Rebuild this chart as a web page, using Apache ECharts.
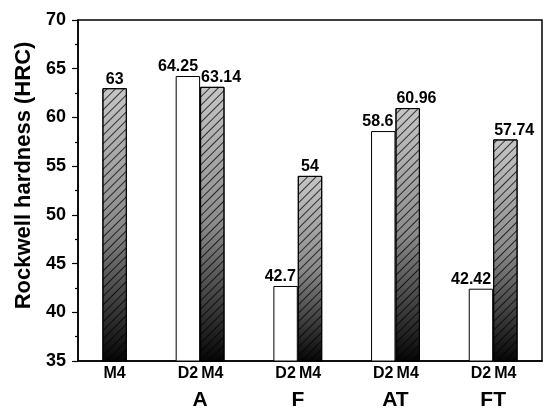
<!DOCTYPE html>
<html>
<head>
<meta charset="utf-8">
<script src="https://cdn.jsdelivr.net/npm/echarts@6/dist/echarts.min.js"></script>
<style>
  html, body { margin: 0; padding: 0; background: #fff; }
  #main { width: 550px; height: 418px; }
</style>
</head>
<body>
<div id="main"></div>
<script>
// treatment groups (first group has only M4)
const groups = ['', 'A', 'F', 'AT', 'FT'];
const d2Values = [null, 64.25, 42.7, 58.6, 42.42];
const m4Values = [63, 63.14, 54, 60.96, 57.74];

// how each value label sits above its bar
const d2LabelSide = ['right', 'right', 'right', 'right', 'right'];
const m4LabelSide = ['center', 'left', 'center', 'left', 'left'];

// each group takes 4 bar slots: D2, M4, gap, gap (+1 spare slot at the end)
const slotCount = groups.length * 4 - 1;

const slotLabels = [];
const d2Data = [];
const m4Data = [];
for (let i = 0; i < slotCount; i++) {
    slotLabels.push('');
    d2Data.push(null);
    m4Data.push(null);
}

const sideLabel = (side) => {
    if (side === 'left') return { position: [0, -1], align: 'left', verticalAlign: 'bottom', offset: [1, 0] };
    if (side === 'right') return { position: ['100%', -1], align: 'right', verticalAlign: 'bottom', offset: [-2, 0] };
    return { position: ['50%', -1], align: 'center', verticalAlign: 'bottom' };
};

groups.forEach((g, i) => {
    if (d2Values[i] != null) {
        slotLabels[4 * i] = 'D2';
        d2Data[4 * i] = { value: d2Values[i], label: sideLabel(d2LabelSide[i]) };
    }
    if (m4Values[i] != null) {
        slotLabels[4 * i + 1] = 'M4';
        m4Data[4 * i + 1] = { value: m4Values[i], label: sideLabel(m4LabelSide[i]) };
    }
});

// group names sit on the boundary between D2 and M4
const groupLabels = [];
for (let i = 0; i <= slotCount; i++) groupLabels.push('');
groups.forEach((g, i) => { groupLabels[4 * i + 1] = g; });

const font = 'Liberation Sans, Arial, sans-serif';

const valueLabel = {
    show: true,
    color: '#000',
    fontFamily: font,
    fontWeight: 'bold',
    fontSize: 16
};

const chart = echarts.init(document.getElementById('main'));

chart.setOption({
    backgroundColor: '#fff',
    animation: false,
    grid: {
        left: 78,
        right: 8,
        top: 20,
        bottom: 57,
        show: true,
        borderColor: '#000',
        borderWidth: 1.5
    },
    xAxis: [
        {
            type: 'category',
            data: slotLabels,
            axisLine: { lineStyle: { color: '#000', width: 1.5 } },
            axisTick: { show: false },
            axisLabel: {
                interval: 0,
                margin: 5,
                color: '#000',
                fontFamily: font,
                fontWeight: 'bold',
                fontSize: 16
            }
        },
        {
            type: 'category',
            position: 'bottom',
            boundaryGap: false,
            offset: 25,
            data: groupLabels,
            axisLine: { show: false },
            axisTick: { show: false },
            axisLabel: {
                interval: 0,
                margin: 4,
                color: '#000',
                fontFamily: font,
                fontWeight: 'bold',
                fontSize: 21
            }
        }
    ],
    yAxis: {
        type: 'value',
        min: 35,
        max: 70,
        interval: 5,
        name: 'Rockwell hardness (HRC)',
        nameLocation: 'middle',
        nameGap: 42,
        nameTextStyle: {
            color: '#000',
            fontFamily: font,
            fontWeight: 'bold',
            fontSize: 22,
            padding: [0, 0, 0, 30]
        },
        axisLine: { show: true, lineStyle: { color: '#000', width: 1.5 } },
        axisTick: { show: true, length: 6, lineStyle: { color: '#000', width: 1.2 } },
        minorTick: { show: true, splitNumber: 2, length: 3, lineStyle: { color: '#000', width: 1.2 } },
        splitLine: { show: false },
        axisLabel: {
            margin: 12,
            color: '#000',
            fontFamily: font,
            fontWeight: 'bold',
            fontSize: 18
        }
    },
    series: [
        {
            name: 'D2',
            type: 'bar',
            data: d2Data,
            barWidth: '100%',
            barGap: '-100%',
            itemStyle: { color: '#fff', borderColor: '#000', borderWidth: 1 },
            label: valueLabel
        },
        {
            name: 'M4',
            type: 'bar',
            data: m4Data,
            barWidth: '100%',
            barGap: '-100%',
            itemStyle: {
                color: new echarts.graphic.LinearGradient(0, 0, 0, 1, [
                    { offset: 0, color: '#c6c6c6' },
                    { offset: 0.5, color: '#8a8a8a' },
                    { offset: 1, color: '#050505' }
                ]),
                borderColor: '#000',
                borderWidth: 1,
                decal: {
                    symbol: 'rect',
                    symbolSize: 1,
                    dashArrayX: [[10, 0]],
                    dashArrayY: [1, 4.5],
                    rotation: -Math.PI / 4,
                    color: 'rgba(0,0,0,0.75)',
                    backgroundColor: null
                }
            },
            label: valueLabel
        }
    ]
});
</script>
</body>
</html>
